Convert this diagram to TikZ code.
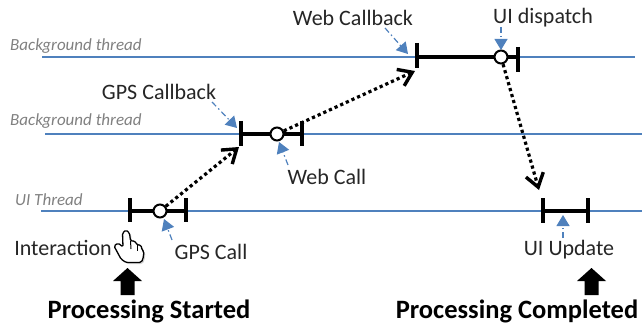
\documentclass[tikz,border=0pt]{standalone}
\usepackage{fontspec}
\setmainfont{Carlito}
\usetikzlibrary{arrows.meta}
\usetikzlibrary{shadows}
\definecolor{threadblue}{RGB}{79,129,189}
\definecolor{threadgrey}{RGB}{128,128,128}
\tikzset{
    threadline/.style={threadblue, line width=1.1pt},
    threadlabel/.style={threadgrey, font=\fontsize{17}{20}\selectfont\itshape, anchor=west, inner sep=0pt},
    tick/.style={line width=3.6pt, black, drop shadow={shadow xshift=1.5pt, shadow yshift=-1.5pt, opacity=0.18}},
    span/.style={line width=3.4pt, black},
    marker/.style={circle, draw=black, fill=white, line width=2pt, minimum size=13pt, inner sep=0pt},
    hop/.style={line width=3.2pt, dash pattern=on 3.2pt off 3pt, -{Straight Barb[length=13pt, width=18pt, line width=3.4pt]}},
    hopnote/.style={threadblue, line width=1.2pt, dash pattern=on 6pt off 3pt on 1.5pt off 3pt, -{Triangle[length=11pt, width=13pt]}},
    label/.style={font=\fontsize{22}{26}\selectfont, text=black!85, inner sep=0pt},
    headline/.style={font=\fontsize{26.5}{30}\selectfont\bfseries, text=black, inner sep=0pt},
    bigarrow/.style={fill=black, draw=none},
}
\begin{document}
\begin{tikzpicture}[x=1pt, y=-1pt]
    \useasboundingbox (0, 0) rectangle (642, 326);
    % threads
    \coordinate (top0) at (42, 57);
    \coordinate (top1) at (635, 57);
    \coordinate (mid0) at (45, 134);
    \coordinate (mid1) at (642, 134);
    \coordinate (low0) at (41, 211);
    \coordinate (low1) at (642, 211);
    \draw [threadline] (top0) to (top1);
    \draw [threadline] (mid0) to (mid1);
    \draw [threadline] (low0) to (low1);
    \node [threadlabel] (toplabel) at (10, 46) {Background thread};
    \node [threadlabel] (midlabel) at (10, 121) {Background thread};
    \node [threadlabel] (lowlabel) at (15, 200) {UI Thread};
    % ui thread, interaction
    \coordinate (a0) at (130, 211);
    \coordinate (a1) at (186, 211);
    \draw [tick] (130, 198) to (130, 222);
    \draw [tick] (186, 198) to (186, 222);
    \draw [span] (a0) to (a1);
    \node [marker] (gpscall) at (160, 211) {};
    % gps callback
    \coordinate (b0) at (241, 134);
    \coordinate (b1) at (302, 134);
    \draw [tick] (241, 121) to (241, 146);
    \draw [tick] (302, 121) to (302, 146);
    \draw [span] (b0) to (b1);
    \node [marker] (webcall) at (277, 134) {};
    % web callback
    \coordinate (c0) at (417, 57);
    \coordinate (c1) at (518, 57);
    \draw [tick] (417, 43) to (417, 68);
    \draw [tick] (518, 47) to (518, 72);
    \draw [span] (c0) to (c1);
    \node [marker] (dispatch) at (501, 57) {};
    % ui update
    \coordinate (d0) at (543, 211);
    \coordinate (d1) at (588, 211);
    \draw [tick] (543, 198) to (543, 223);
    \draw [tick] (588, 198) to (588, 223);
    \draw [span] (d0) to (d1);
    % hops between threads
    \coordinate (hop1) at (239, 147);
    \coordinate (hop2) at (415, 71);
    \coordinate (hop3) at (539, 190);
    \draw [hop] (gpscall) to (hop1);
    \draw [hop] (webcall) to (hop2);
    \draw [hop] (dispatch) to (hop3);
    % labels
    \node [label] (gpscback) at (159, 92) {GPS Callback};
    \node [label] (webtext) at (327, 177) {Web Call};
    \node [label] (webcback) at (353, 18) {Web Callback};
    \node [label] (uidisp) at (543, 18) {UI dispatch};
    \node [label] (uiupd) at (569, 250) {UI Update};
    \node [label] (inter) at (63, 248) {Interaction};
    \node [label] (gpstext) at (211, 252) {GPS Call};
    % blue pointers
    \coordinate (p1) at (212, 102);
    \coordinate (q1) at (237, 128);
    \coordinate (p2) at (288, 165);
    \coordinate (q2) at (279, 142);
    \coordinate (p3) at (385, 28);
    \coordinate (q3) at (408, 54);
    \coordinate (p4) at (501, 27);
    \coordinate (q4) at (501, 50);
    \coordinate (p5) at (563, 238);
    \coordinate (q5) at (563, 215);
    \coordinate (p6) at (172, 240);
    \coordinate (q6) at (164, 219);
    \draw [hopnote] (p1) to (q1);
    \draw [hopnote] (p2) to (q2);
    \draw [hopnote] (p3) to (q3);
    \draw [hopnote] (p4) to (q4);
    \draw [hopnote] (p5) to (q5);
    \draw [hopnote] (p6) to (q6);
    % hand
    \draw [black, fill=white, line width=1.3pt, rounded corners=1.5pt, line join=round,
        drop shadow={shadow xshift=1.5pt, shadow yshift=-1.5pt, opacity=0.35}]
        (114, 246) -- (118, 243) -- (123, 247) -- (122.5, 233) -- (126, 230) -- (129.5, 233)
        -- (130.5, 241) -- (135, 241) -- (137, 245) -- (141, 245) -- (142, 250) -- (144, 251.5)
        -- (143, 259) -- (141, 262.5) -- (126, 262.5) -- (121, 259) -- cycle;
    \draw [black, line width=1pt] (130.5, 241) -- (131, 249);
    \draw [black, line width=1pt] (137, 245) -- (137, 251);
    % start and end of processing
    \fill [bigarrow] (127.5, 268) -- (142, 281) -- (134.5, 281) -- (134.5, 295) -- (120.5, 295) -- (120.5, 281) -- (113, 281) -- cycle;
    \fill [bigarrow] (591.5, 268) -- (606, 281) -- (598.5, 281) -- (598.5, 295) -- (584.5, 295) -- (584.5, 281) -- (577, 281) -- cycle;
    \node [headline] (started) at (149, 311) {Processing Started};
    \node [headline] (completed) at (517, 311) {Processing Completed};
\end{tikzpicture}
\end{document}
